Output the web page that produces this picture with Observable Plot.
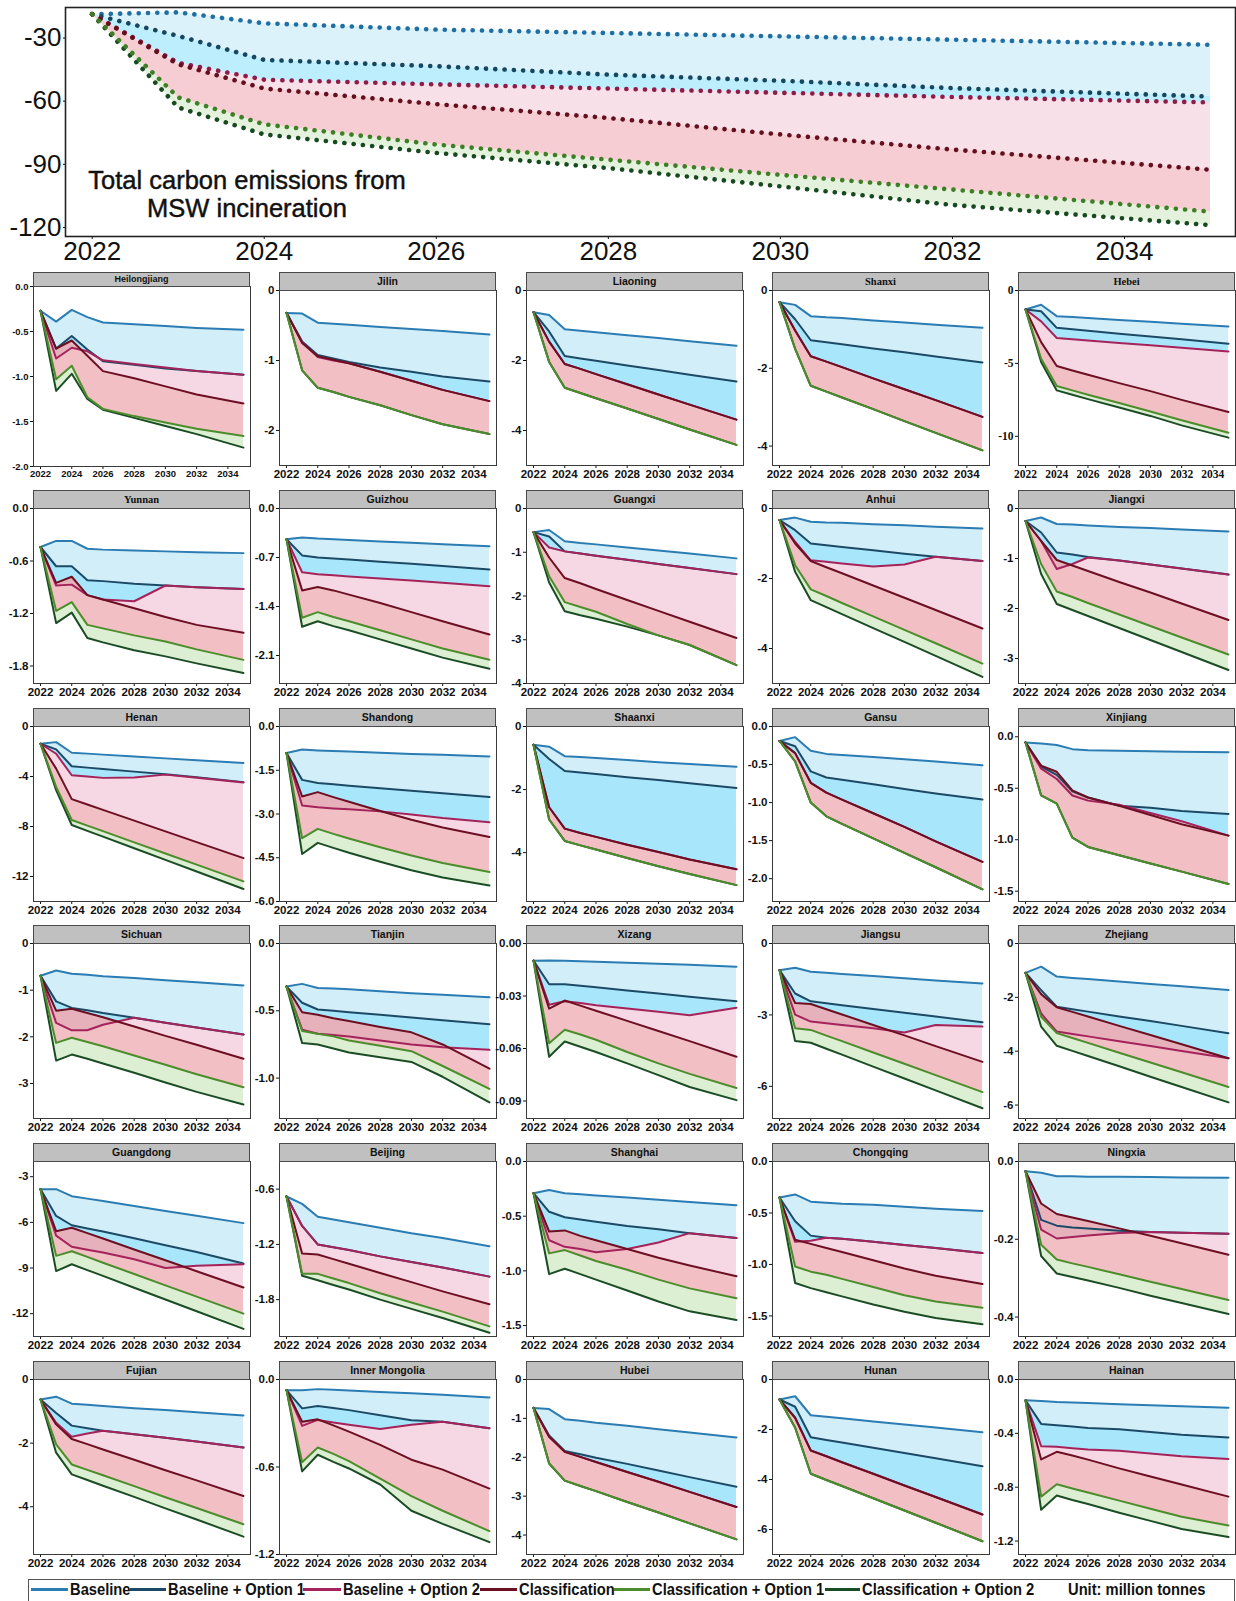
<!DOCTYPE html>
<html>
<head>
<meta charset="utf-8">
<script src="https://cdn.jsdelivr.net/npm/d3@7"></script>
<script src="https://cdn.jsdelivr.net/npm/@observablehq/plot@0.6"></script>
<style>
html,body{margin:0;padding:0;background:#fff;}
#page{position:relative;width:1236px;height:1601px;overflow:hidden;background:#fff;font-family:"Liberation Sans",Arial,sans-serif;}
.strip{position:absolute;box-sizing:border-box;background:#c0c0c0;border:1px solid #4a4a4a;text-align:center;font-weight:bold;color:#111;white-space:nowrap;overflow:hidden;}
.legbox{position:absolute;left:28px;top:1579px;width:1207px;height:40px;box-sizing:border-box;border:1.5px solid #555;}
.legitem{position:absolute;top:1579px;height:21px;display:flex;align-items:center;font-weight:bold;font-size:16px;color:#111;white-space:nowrap;}
.legitem .lt{display:inline-block;transform:scaleX(0.92);transform-origin:left center;}
.legline{display:inline-block;height:3px;margin-right:2px;}
.note{position:absolute;left:80px;top:166px;width:334px;text-align:center;font-size:25.5px;line-height:28px;color:#111;white-space:nowrap;-webkit-text-stroke:0.45px #111;}
</style>
</head>
<body>
<div id="page"></div>
<script>
// ---------- Top panel: total carbon emissions (million tonnes) ----------
const totalYears = [2022, 2023, 2024, 2026, 2028, 2030, 2032, 2035];
const totBaseline   = [-18.7, -17.8, -23.0, -26.0, -27.6, -29.2, -30.8, -33.2];
const totOption1    = [-18.7, -29.0, -40.4, -43.4, -47.4, -50.3, -53.8, -57.8];
const totOption2    = [-18.7, -41.8, -49.8, -52.0, -54.0, -56.0, -58.0, -60.6];
const totClass      = [-18.7, -42.5, -54.0, -61.4, -68.0, -75.8, -83.0, -92.6];
const totClassOpt1  = [-18.7, -58.2, -71.0, -80.6, -87.8, -95.0, -102.0, -112.5];
const totClassOpt2  = [-18.7, -63.0, -75.8, -84.6, -91.8, -100.5, -109.3, -118.9];
const topYTicks = [-30, -60, -90, -120];
const xTickYears = [2022, 2024, 2026, 2028, 2030, 2032, 2034];

// ---------- Provinces ----------
const scenarios = ["Baseline", "Baseline + Option 1", "Baseline + Option 2", "Classification", "Classification + Option 1", "Classification + Option 2"];
const provinces = ["Heilongjiang","Jilin","Liaoning","Shanxi","Hebei",
  "Yunnan","Guizhou","Guangxi","Anhui","Jiangxi",
  "Henan","Shandong","Shaanxi","Gansu","Xinjiang",
  "Sichuan","Tianjin","Xizang","Jiangsu","Zhejiang",
  "Guangdong","Beijing","Shanghai","Chongqing","Ningxia",
  "Fujian","Inner Mongolia","Hubei","Hunan","Hainan"];
const years = [2022, 2023, 2024, 2025, 2026, 2028, 2030, 2032, 2035];

const yDomains = [[-2,0],[-2.5,0],[-5,0],[-4.5,0],[-12,0],
  [-2,0],[-2.5,0],[-4,0],[-5,0],[-3.5,0],
  [-14,0],[-6,0],[-5.55,0],[-2.3,0],[-1.6,0.1],
  [-3.75,0],[-1.3,0],[-0.1,0],[-7.35,0],[-6.5,0],
  [-13.5,-2],[-2.2,-0.3],[-1.6,0],[-1.7,0],[-0.45,0],
  [-5.5,0],[-1.2,0],[-4.5,0],[-7,0],[-1.3,0]];
const yTicks = [[0,-0.5,-1,-1.5,-2],[0,-1,-2],[0,-2,-4],[0,-2,-4],[0,-5,-10],
  [0,-0.6,-1.2,-1.8],[0,-0.7,-1.4,-2.1],[0,-1,-2,-3,-4],[0,-2,-4],[0,-1,-2,-3],
  [0,-4,-8,-12],[0,-1.5,-3,-4.5,-6],[0,-2,-4],[0,-0.5,-1,-1.5,-2],[0,-0.5,-1,-1.5],
  [0,-1,-2,-3],[0,-0.5,-1],[0,-0.03,-0.06,-0.09],[0,-3,-6],[0,-2,-4,-6],
  [-3,-6,-9,-12],[-0.6,-1.2,-1.8],[0,-0.5,-1,-1.5],[0,-0.5,-1,-1.5],[0,-0.2,-0.4],
  [0,-2,-4],[0,-0.6,-1.2],[0,-1,-2,-3,-4],[0,-2,-4,-6],[0,-0.4,-0.8,-1.2]];
const yDecimals = [1,0,0,0,0, 1,1,0,0,0, 0,1,0,1,1, 0,1,2,0,0, 0,1,1,1,1, 0,1,0,0,1];

const baseline = [
  [-0.27,-0.39,-0.26,-0.34,-0.40,-0.42,-0.44,-0.46,-0.48],
  [-0.32,-0.33,-0.46,-0.475,-0.49,-0.52,-0.55,-0.58,-0.63],
  [-0.62,-0.70,-1.11,-1.15,-1.19,-1.28,-1.36,-1.45,-1.58],
  [-0.30,-0.37,-0.66,-0.69,-0.71,-0.77,-0.82,-0.88,-0.96],
  [-1.3,-0.98,-1.76,-1.82,-1.89,-2.02,-2.15,-2.28,-2.47],
  [-0.44,-0.37,-0.37,-0.46,-0.47,-0.48,-0.49,-0.50,-0.51],
  [-0.44,-0.415,-0.43,-0.44,-0.45,-0.47,-0.49,-0.51,-0.54],
  [-0.54,-0.49,-0.75,-0.79,-0.82,-0.89,-0.96,-1.03,-1.14],
  [-0.33,-0.26,-0.38,-0.40,-0.41,-0.45,-0.48,-0.52,-0.57],
  [-0.25,-0.18,-0.31,-0.32,-0.34,-0.37,-0.39,-0.42,-0.46],
  [-1.38,-1.25,-2.10,-2.17,-2.25,-2.40,-2.55,-2.70,-2.92],
  [-0.91,-0.79,-0.82,-0.84,-0.86,-0.90,-0.94,-0.97,-1.03],
  [-0.58,-0.64,-0.94,-0.97,-1.00,-1.06,-1.13,-1.19,-1.28],
  [-0.19,-0.14,-0.32,-0.36,-0.375,-0.40,-0.43,-0.46,-0.51],
  [-0.055,-0.065,-0.08,-0.12,-0.13,-0.135,-0.14,-0.145,-0.15],
  [-0.69,-0.58,-0.65,-0.67,-0.70,-0.74,-0.79,-0.83,-0.90],
  [-0.32,-0.30,-0.33,-0.335,-0.34,-0.355,-0.37,-0.38,-0.40],
  [-0.0098,-0.0097,-0.0098,-0.0101,-0.0104,-0.011,-0.0116,-0.0122,-0.0133],
  [-1.12,-1.02,-1.19,-1.23,-1.28,-1.37,-1.46,-1.55,-1.68],
  [-1.09,-0.86,-1.23,-1.28,-1.32,-1.41,-1.50,-1.59,-1.73],
  [-3.82,-3.82,-4.28,-4.44,-4.60,-4.92,-5.25,-5.57,-6.05],
  [-0.68,-0.76,-0.90,-0.93,-0.96,-1.02,-1.08,-1.13,-1.22],
  [-0.29,-0.26,-0.29,-0.30,-0.31,-0.33,-0.35,-0.37,-0.40],
  [-0.35,-0.32,-0.39,-0.40,-0.41,-0.42,-0.44,-0.46,-0.48],
  [-0.025,-0.029,-0.038,-0.038,-0.039,-0.039,-0.040,-0.041,-0.042],
  [-0.63,-0.54,-0.76,-0.79,-0.83,-0.90,-0.96,-1.03,-1.13],
  [-0.073,-0.073,-0.066,-0.07,-0.075,-0.085,-0.095,-0.105,-0.123],
  [-0.73,-0.76,-1.02,-1.06,-1.11,-1.19,-1.28,-1.36,-1.49],
  [-0.80,-0.67,-1.43,-1.49,-1.55,-1.68,-1.80,-1.92,-2.11],
  [-0.155,-0.16,-0.167,-0.171,-0.175,-0.183,-0.191,-0.198,-0.21]
];
const baselineOpt1 = [
  [-0.27,-0.69,-0.55,-0.70,-0.83,-0.87,-0.91,-0.94,-0.98],
  [-0.32,-0.73,-0.92,-0.97,-1.02,-1.10,-1.16,-1.23,-1.30],
  [-0.62,-1.17,-1.87,-1.94,-2.01,-2.14,-2.27,-2.41,-2.60],
  [-0.30,-0.74,-1.28,-1.33,-1.38,-1.49,-1.59,-1.70,-1.85],
  [-1.3,-1.42,-2.56,-2.66,-2.76,-2.96,-3.15,-3.35,-3.65],
  [-0.44,-0.66,-0.66,-0.82,-0.83,-0.86,-0.88,-0.90,-0.92],
  [-0.44,-0.67,-0.70,-0.715,-0.73,-0.76,-0.79,-0.82,-0.87],
  [-0.54,-0.64,-0.98,-1.03,-1.08,-1.17,-1.27,-1.36,-1.50],
  [-0.33,-0.62,-1.0,-1.05,-1.10,-1.19,-1.29,-1.38,-1.50],
  [-0.25,-0.48,-0.88,-0.92,-0.97,-1.04,-1.12,-1.20,-1.32],
  [-1.38,-1.83,-3.18,-3.29,-3.40,-3.61,-3.82,-4.05,-4.45],
  [-0.91,-1.83,-1.94,-1.98,-2.03,-2.12,-2.20,-2.29,-2.42],
  [-0.58,-1.03,-1.41,-1.46,-1.51,-1.61,-1.70,-1.80,-1.95],
  [-0.19,-0.26,-0.59,-0.67,-0.70,-0.76,-0.82,-0.88,-0.96],
  [-0.055,-0.29,-0.37,-0.53,-0.59,-0.67,-0.69,-0.72,-0.75],
  [-0.69,-1.24,-1.38,-1.43,-1.49,-1.59,-1.70,-1.80,-1.95],
  [-0.32,-0.44,-0.49,-0.50,-0.51,-0.53,-0.55,-0.57,-0.60],
  [-0.0098,-0.0233,-0.0233,-0.0242,-0.025,-0.0268,-0.0286,-0.0304,-0.033],
  [-1.12,-2.10,-2.43,-2.51,-2.59,-2.75,-2.91,-3.07,-3.31],
  [-1.09,-1.73,-2.35,-2.44,-2.53,-2.71,-2.88,-3.06,-3.33],
  [-3.82,-5.58,-6.19,-6.40,-6.60,-7.05,-7.50,-7.95,-8.70],
  [-0.68,-1.0,-1.2,-1.23,-1.26,-1.33,-1.39,-1.45,-1.55],
  [-0.29,-0.46,-0.51,-0.53,-0.55,-0.59,-0.62,-0.655,-0.70],
  [-0.35,-0.58,-0.72,-0.74,-0.75,-0.78,-0.81,-0.84,-0.89],
  [-0.025,-0.15,-0.165,-0.17,-0.172,-0.178,-0.181,-0.183,-0.186],
  [-0.63,-1.05,-1.45,-1.53,-1.61,-1.72,-1.83,-1.95,-2.14],
  [-0.073,-0.198,-0.182,-0.195,-0.21,-0.245,-0.28,-0.29,-0.334],
  [-0.73,-1.44,-1.84,-1.92,-2.01,-2.17,-2.34,-2.51,-2.76],
  [-0.80,-1.09,-2.31,-2.42,-2.52,-2.73,-2.94,-3.15,-3.47],
  [-0.155,-0.33,-0.34,-0.35,-0.36,-0.37,-0.39,-0.41,-0.43]
];
const baselineOpt2 = [
  [-0.27,-0.80,-0.68,-0.72,-0.82,-0.86,-0.90,-0.94,-0.98],
  [-0.32,-0.74,-0.95,-1.00,-1.04,-1.16,-1.29,-1.42,-1.58],
  [-0.62,-1.46,-2.10,-2.24,-2.39,-2.68,-2.97,-3.26,-3.69],
  [-0.30,-1.03,-1.69,-1.83,-1.97,-2.26,-2.54,-2.82,-3.25],
  [-1.3,-2.12,-3.26,-3.34,-3.43,-3.60,-3.76,-3.93,-4.18],
  [-0.44,-0.88,-0.87,-0.99,-1.04,-1.06,-0.88,-0.90,-0.92],
  [-0.44,-0.91,-0.94,-0.955,-0.97,-1.00,-1.03,-1.06,-1.11],
  [-0.54,-0.89,-0.98,-1.03,-1.08,-1.17,-1.27,-1.36,-1.50],
  [-0.33,-0.95,-1.48,-1.52,-1.57,-1.66,-1.60,-1.38,-1.50],
  [-0.25,-0.65,-1.21,-1.11,-0.98,-1.04,-1.12,-1.20,-1.32],
  [-1.38,-2.18,-3.90,-4.0,-4.11,-4.08,-3.85,-4.10,-4.48],
  [-0.91,-2.71,-2.77,-2.81,-2.84,-2.91,-3.02,-3.14,-3.28],
  [-0.58,-2.56,-3.24,-3.38,-3.50,-3.75,-3.98,-4.22,-4.53],
  [-0.19,-0.35,-0.74,-0.87,-0.96,-1.14,-1.32,-1.51,-1.78],
  [-0.055,-0.31,-0.41,-0.57,-0.62,-0.66,-0.74,-0.82,-0.96],
  [-0.69,-1.70,-1.86,-1.86,-1.74,-1.59,-1.70,-1.80,-1.95],
  [-0.32,-0.64,-0.67,-0.68,-0.69,-0.72,-0.75,-0.77,-0.79],
  [-0.0098,-0.035,-0.033,-0.034,-0.0353,-0.0372,-0.039,-0.041,-0.0367],
  [-1.12,-2.99,-3.28,-3.35,-3.42,-3.56,-3.74,-3.42,-3.49],
  [-1.09,-2.6,-3.27,-3.36,-3.45,-3.63,-3.81,-3.99,-4.26],
  [-3.82,-6.87,-7.6,-7.8,-7.98,-8.42,-9.0,-8.85,-8.75],
  [-0.68,-1.0,-1.2,-1.23,-1.26,-1.33,-1.39,-1.45,-1.55],
  [-0.29,-0.72,-0.78,-0.80,-0.83,-0.80,-0.74,-0.655,-0.70],
  [-0.35,-0.78,-0.77,-0.74,-0.75,-0.78,-0.81,-0.84,-0.89],
  [-0.025,-0.175,-0.198,-0.194,-0.19,-0.184,-0.181,-0.183,-0.186],
  [-0.63,-1.36,-1.80,-1.70,-1.61,-1.72,-1.83,-1.95,-2.14],
  [-0.073,-0.318,-0.277,-0.295,-0.31,-0.34,-0.31,-0.29,-0.334],
  [-0.73,-1.47,-1.86,-1.99,-2.12,-2.38,-2.63,-2.89,-3.28],
  [-0.80,-1.53,-2.84,-3.07,-3.31,-3.77,-4.24,-4.70,-5.40],
  [-0.155,-0.495,-0.50,-0.51,-0.52,-0.53,-0.55,-0.57,-0.59]
];
const classification = [
  [-0.27,-0.69,-0.60,-0.77,-0.94,-1.02,-1.11,-1.20,-1.30],
  [-0.32,-0.75,-0.94,-0.99,-1.04,-1.16,-1.29,-1.42,-1.58],
  [-0.62,-1.46,-2.10,-2.24,-2.39,-2.68,-2.97,-3.26,-3.69],
  [-0.30,-1.03,-1.69,-1.83,-1.97,-2.26,-2.54,-2.82,-3.25],
  [-1.3,-3.54,-5.18,-5.48,-5.78,-6.35,-6.90,-7.50,-8.33],
  [-0.44,-0.85,-0.78,-0.99,-1.04,-1.14,-1.24,-1.33,-1.42],
  [-0.44,-1.17,-1.12,-1.17,-1.23,-1.35,-1.48,-1.61,-1.80],
  [-0.54,-1.12,-1.59,-1.71,-1.84,-2.09,-2.34,-2.59,-2.96],
  [-0.33,-1.0,-1.50,-1.68,-1.85,-2.20,-2.55,-2.90,-3.43],
  [-0.25,-0.65,-1.03,-1.14,-1.25,-1.47,-1.68,-1.90,-2.23],
  [-1.38,-3.37,-5.81,-6.24,-6.67,-7.53,-8.39,-9.25,-10.53],
  [-0.91,-2.40,-2.25,-2.42,-2.58,-2.90,-3.20,-3.46,-3.79],
  [-0.58,-2.56,-3.24,-3.38,-3.50,-3.75,-3.98,-4.22,-4.53],
  [-0.19,-0.35,-0.74,-0.87,-0.96,-1.14,-1.32,-1.51,-1.78],
  [-0.055,-0.28,-0.34,-0.52,-0.59,-0.67,-0.76,-0.85,-0.96],
  [-0.69,-1.44,-1.40,-1.49,-1.58,-1.78,-1.98,-2.17,-2.47],
  [-0.32,-0.51,-0.53,-0.555,-0.575,-0.62,-0.66,-0.75,-0.93],
  [-0.0098,-0.0372,-0.0326,-0.0355,-0.0384,-0.0442,-0.05,-0.0558,-0.0647],
  [-1.12,-2.50,-2.54,-2.76,-2.98,-3.42,-3.86,-4.31,-4.97],
  [-1.09,-1.88,-2.37,-2.54,-2.71,-3.06,-3.40,-3.74,-4.26],
  [-3.82,-6.58,-6.35,-6.71,-7.06,-7.78,-8.49,-9.21,-10.28],
  [-0.68,-1.30,-1.31,-1.36,-1.41,-1.51,-1.61,-1.71,-1.85],
  [-0.29,-0.64,-0.63,-0.68,-0.72,-0.80,-0.88,-0.95,-1.05],
  [-0.35,-0.76,-0.80,-0.84,-0.88,-0.96,-1.04,-1.11,-1.19],
  [-0.025,-0.108,-0.135,-0.144,-0.153,-0.172,-0.191,-0.21,-0.24],
  [-0.63,-1.41,-1.87,-2.03,-2.20,-2.52,-2.85,-3.17,-3.66],
  [-0.073,-0.289,-0.273,-0.315,-0.357,-0.448,-0.55,-0.618,-0.748],
  [-0.73,-1.47,-1.86,-1.99,-2.12,-2.38,-2.63,-2.89,-3.28],
  [-0.80,-1.53,-2.84,-3.07,-3.31,-3.77,-4.24,-4.70,-5.40],
  [-0.155,-0.594,-0.537,-0.565,-0.595,-0.66,-0.72,-0.78,-0.87]
];
const classOpt1 = [
  [-0.27,-1.03,-0.88,-1.23,-1.36,-1.44,-1.51,-1.58,-1.66],
  [-0.32,-1.14,-1.39,-1.45,-1.52,-1.64,-1.78,-1.91,-2.05],
  [-0.62,-2.04,-2.78,-2.93,-3.08,-3.37,-3.67,-3.97,-4.41],
  [-0.30,-1.50,-2.45,-2.60,-2.75,-3.05,-3.36,-3.66,-4.11],
  [-1.3,-4.68,-6.55,-6.85,-7.15,-7.72,-8.30,-8.90,-9.75],
  [-0.44,-1.17,-1.07,-1.33,-1.37,-1.45,-1.52,-1.61,-1.73],
  [-0.44,-1.56,-1.48,-1.55,-1.61,-1.74,-1.87,-2.0,-2.16],
  [-0.54,-1.55,-2.14,-2.25,-2.36,-2.64,-2.90,-3.12,-3.58],
  [-0.33,-1.62,-2.31,-2.50,-2.70,-3.08,-3.47,-3.85,-4.43],
  [-0.25,-1.11,-1.66,-1.77,-1.89,-2.12,-2.35,-2.58,-2.92],
  [-1.38,-4.83,-7.48,-7.93,-8.37,-9.27,-10.16,-11.05,-12.39],
  [-0.91,-3.83,-3.51,-3.68,-3.84,-4.14,-4.42,-4.68,-4.99],
  [-0.58,-2.95,-3.63,-3.77,-3.90,-4.17,-4.43,-4.68,-5.03],
  [-0.19,-0.46,-1.0,-1.18,-1.28,-1.47,-1.66,-1.85,-2.14],
  [-0.055,-0.57,-0.65,-0.98,-1.07,-1.15,-1.23,-1.31,-1.43],
  [-0.69,-2.13,-2.02,-2.11,-2.20,-2.40,-2.60,-2.80,-3.08],
  [-0.32,-0.65,-0.67,-0.69,-0.72,-0.76,-0.80,-0.91,-1.08],
  [-0.0098,-0.057,-0.0493,-0.052,-0.055,-0.062,-0.0685,-0.0745,-0.0826],
  [-1.12,-3.56,-3.63,-3.87,-4.10,-4.58,-5.05,-5.53,-6.24],
  [-1.09,-2.72,-3.33,-3.51,-3.69,-4.06,-4.42,-4.78,-5.33],
  [-3.82,-8.2,-7.9,-8.27,-8.65,-9.39,-10.14,-10.88,-12.0],
  [-0.68,-1.52,-1.52,-1.57,-1.62,-1.73,-1.83,-1.93,-2.09],
  [-0.29,-0.84,-0.81,-0.86,-0.91,-0.99,-1.08,-1.16,-1.25],
  [-0.35,-1.02,-1.07,-1.10,-1.14,-1.22,-1.30,-1.36,-1.42],
  [-0.025,-0.214,-0.252,-0.262,-0.271,-0.29,-0.309,-0.328,-0.356],
  [-0.63,-2.04,-2.67,-2.84,-3.01,-3.35,-3.70,-4.04,-4.55],
  [-0.073,-0.568,-0.466,-0.51,-0.56,-0.68,-0.80,-0.90,-1.04],
  [-0.73,-2.16,-2.60,-2.74,-2.87,-3.15,-3.42,-3.70,-4.11],
  [-0.80,-1.93,-3.77,-4.02,-4.26,-4.75,-5.24,-5.73,-6.47],
  [-0.155,-0.87,-0.778,-0.81,-0.84,-0.90,-0.96,-1.02,-1.085]
];
const classOpt2 = [
  [-0.27,-1.16,-0.97,-1.25,-1.37,-1.46,-1.55,-1.64,-1.79],
  [-0.32,-1.14,-1.39,-1.45,-1.52,-1.64,-1.78,-1.91,-2.05],
  [-0.62,-2.04,-2.78,-2.93,-3.08,-3.37,-3.67,-3.97,-4.41],
  [-0.30,-1.50,-2.45,-2.60,-2.75,-3.05,-3.36,-3.66,-4.11],
  [-1.3,-4.9,-6.85,-7.15,-7.45,-8.02,-8.60,-9.25,-10.09],
  [-0.44,-1.31,-1.19,-1.48,-1.53,-1.62,-1.69,-1.77,-1.88],
  [-0.44,-1.69,-1.61,-1.68,-1.74,-1.87,-2.0,-2.13,-2.29],
  [-0.54,-1.69,-2.35,-2.44,-2.52,-2.70,-2.90,-3.12,-3.58],
  [-0.33,-1.81,-2.62,-2.82,-3.02,-3.42,-3.81,-4.21,-4.81],
  [-0.25,-1.31,-1.91,-2.03,-2.15,-2.39,-2.63,-2.87,-3.23],
  [-1.38,-5.09,-7.88,-8.35,-8.81,-9.74,-10.67,-11.6,-13.0],
  [-0.91,-4.37,-3.99,-4.16,-4.33,-4.64,-4.93,-5.18,-5.45],
  [-0.58,-2.95,-3.63,-3.77,-3.90,-4.17,-4.43,-4.68,-5.03],
  [-0.19,-0.46,-1.0,-1.18,-1.28,-1.47,-1.66,-1.85,-2.14],
  [-0.055,-0.57,-0.65,-0.98,-1.07,-1.15,-1.23,-1.31,-1.43],
  [-0.69,-2.51,-2.38,-2.47,-2.57,-2.77,-2.98,-3.18,-3.45],
  [-0.32,-0.74,-0.75,-0.78,-0.81,-0.845,-0.88,-0.99,-1.18],
  [-0.0098,-0.0647,-0.056,-0.059,-0.062,-0.0685,-0.0752,-0.082,-0.0895],
  [-1.12,-4.10,-4.17,-4.42,-4.67,-5.17,-5.67,-6.17,-6.92],
  [-1.09,-3.09,-3.80,-3.99,-4.18,-4.56,-4.95,-5.33,-5.90],
  [-3.82,-9.2,-8.75,-9.14,-9.52,-10.3,-11.07,-11.84,-13.0],
  [-0.68,-1.54,-1.59,-1.64,-1.69,-1.80,-1.90,-2.0,-2.16],
  [-0.29,-1.03,-0.98,-1.03,-1.08,-1.18,-1.28,-1.37,-1.45],
  [-0.35,-1.18,-1.23,-1.27,-1.31,-1.39,-1.46,-1.52,-1.58],
  [-0.025,-0.243,-0.288,-0.297,-0.306,-0.325,-0.345,-0.364,-0.392],
  [-0.63,-2.30,-2.98,-3.16,-3.34,-3.69,-4.05,-4.40,-4.94],
  [-0.073,-0.63,-0.516,-0.565,-0.61,-0.72,-0.90,-0.99,-1.115],
  [-0.73,-2.16,-2.60,-2.74,-2.87,-3.15,-3.42,-3.70,-4.11],
  [-0.80,-1.93,-3.77,-4.02,-4.26,-4.75,-5.24,-5.73,-6.47],
  [-0.155,-0.968,-0.862,-0.895,-0.925,-0.99,-1.05,-1.11,-1.17]
];

// ---------- Styling ----------
const lineColors = ["#2b7cb3", "#1c4a66", "#a3235a", "#6c0f22", "#4d8c2c", "#1b4d24"];
const topDotColors = ["#1f6fa3", "#17465f", "#8c1c48", "#64101e", "#3f7d27", "#174a1f"];
// [from scenario, to scenario, fill colour, opacity]
const fillPairs = [[0, 1, "#d2eef9", 1], [1, 2, "#a8e7fb", 1], [2, 3, "#f1c7d7", 0.7], [3, 4, "#eca4ac", 0.7], [4, 5, "#cee8c0", 0.7]];
const topFillPairs = [[0, 1, "#dcf2fb", 1], [1, 2, "#bdeefd", 1], [2, 3, "#f5d3e0", 0.7], [3, 4, "#f2b8bf", 0.7], [4, 5, "#d9ebcd", 0.7]];
const drawOrder = [0, 1, 2, 3, 5, 4];
const serifPanels = new Set([3, 4, 5]);

const page = document.getElementById("page");
function addAbs(el, left, top) {
  el.style.position = "absolute";
  el.style.left = left + "px";
  el.style.top = top + "px";
  page.appendChild(el);
  return el;
}

// ---------- Top chart ----------
const totals = [totBaseline, totOption1, totOption2, totClass, totClassOpt1, totClassOpt2];
const totRows = totalYears.map((yr, k) => ({year: yr, v: totals.map(s => s[k])}));
const topMarks = [];
for (const [a, b, c, op] of topFillPairs) {
  topMarks.push(Plot.areaY(totRows, {x: "year", y1: d => d.v[a], y2: d => d.v[b], fill: c, fillOpacity: op}));
}
for (const s of drawOrder) {
  topMarks.push(Plot.line(totRows, {x: "year", y: d => d.v[s], stroke: topDotColors[s], strokeWidth: 4.6, strokeLinecap: "round", strokeDasharray: "0.1 9.2"}));
}
topMarks.push(Plot.frame({stroke: "#222", strokeWidth: 1.6}));
const topChart = Plot.plot({
  width: 1236, height: 268,
  marginLeft: 65, marginRight: 1, marginTop: 7, marginBottom: 32,
  style: {background: "transparent", fontFamily: "'Liberation Sans', Arial, sans-serif", fontSize: "26px", color: "#111", overflow: "visible", maxWidth: "none"},
  x: {domain: [2021.69, 2035.29], ticks: xTickYears, tickFormat: d => String(d), label: null, tickSize: 3, tickPadding: 2},
  y: {domain: [-124.3, -15.5], ticks: topYTicks, tickFormat: d => String(d), label: null, tickSize: 2, tickPadding: 2},
  marks: topMarks
});
const topWrap = document.createElement("div");
topWrap.style.width = "1236px";
topWrap.appendChild(topChart);
addAbs(topWrap, 0, 0);

const note = document.createElement("div");
note.className = "note";
note.innerHTML = "Total carbon emissions from<br>MSW incineration";
page.appendChild(note);

// ---------- Small multiples ----------
const colLefts = [33, 279, 526, 772, 1018];
const frameW = 217;
provinces.forEach((name, i) => {
  const r = Math.floor(i / 5), c = i % 5;
  const L = colLefts[c];
  const T = Math.round(272 + r * 217.8);
  const small = i === 0;
  const stripH = small ? 14 : 18;
  const frameTop = T + stripH;
  const frameBottom = T + (small ? 194 : 193);
  const plotH = frameBottom - frameTop;
  const mL = 34, mR = 4, mT = 7, mB = 20;
  const rows = years.map((yr, k) => ({year: yr, v: [baseline[i][k], baselineOpt1[i][k], baselineOpt2[i][k], classification[i][k], classOpt1[i][k], classOpt2[i][k]]}));
  const marks = [];
  for (const [a, b, col, op] of fillPairs) {
    marks.push(Plot.areaY(rows, {x: "year", y1: d => d.v[a], y2: d => d.v[b], fill: col, fillOpacity: op}));
  }
  for (const s of drawOrder) {
    marks.push(Plot.line(rows, {x: "year", y: d => d.v[s], stroke: lineColors[s], strokeWidth: 2, strokeLinejoin: "round"}));
  }
  marks.push(Plot.frame({stroke: "#3a3a3a", strokeWidth: 1}));
  const dec = yDecimals[i];
  const serifTicks = i === 4;
  const chart = Plot.plot({
    width: mL + frameW + mR, height: mT + plotH + mB,
    marginLeft: mL, marginRight: mR, marginTop: mT, marginBottom: mB,
    style: {background: "transparent", fontFamily: serifTicks ? "'Liberation Serif', 'Times New Roman', serif" : "'Liberation Sans', Arial, sans-serif",
      fontSize: small ? "9.5px" : "11.5px", fontWeight: "bold", color: "#111", overflow: "visible", maxWidth: "none"},
    x: {domain: [2021.55, 2035.45], ticks: xTickYears, tickFormat: d => String(d), label: null, tickSize: 3, tickPadding: 1},
    y: {domain: yDomains[i], ticks: yTicks[i], tickFormat: d => d.toFixed(dec), label: null, tickSize: 3, tickPadding: 2},
    marks
  });
  const wrap = document.createElement("div");
  wrap.style.width = (mL + frameW + mR) + "px";
  wrap.appendChild(chart);
  addAbs(wrap, L - mL, frameTop - mT);

  const strip = document.createElement("div");
  strip.className = "strip";
  strip.style.left = L + "px";
  strip.style.top = T + "px";
  strip.style.width = frameW + "px";
  strip.style.height = (stripH + 1) + "px";
  strip.style.lineHeight = (stripH - 1) + "px";
  strip.style.fontSize = small ? "9px" : "10.5px";
  if (serifPanels.has(i)) strip.style.fontFamily = "'Liberation Serif', 'Times New Roman', serif";
  strip.textContent = name;
  page.appendChild(strip);
});

// ---------- Legend ----------
const legBox = document.createElement("div");
legBox.className = "legbox";
page.appendChild(legBox);
const legendLefts = [31, 130, 303, 480, 614, 825];
const legendLineW = [37, 36, 38, 37, 36, 35];
scenarios.forEach((s, k) => {
  const item = document.createElement("div");
  item.className = "legitem";
  item.style.left = legendLefts[k] + "px";
  const ln = document.createElement("span");
  ln.className = "legline";
  ln.style.width = legendLineW[k] + "px";
  ln.style.background = lineColors[k];
  item.appendChild(ln);
  const tx = document.createElement("span");
  tx.className = "lt";
  tx.textContent = s;
  item.appendChild(tx);
  page.appendChild(item);
});
const unit = document.createElement("div");
unit.className = "legitem";
unit.style.left = "1068px";
const ut = document.createElement("span");
ut.className = "lt";
ut.textContent = "Unit: million tonnes";
unit.appendChild(ut);
page.appendChild(unit);
</script>
</body>
</html>
